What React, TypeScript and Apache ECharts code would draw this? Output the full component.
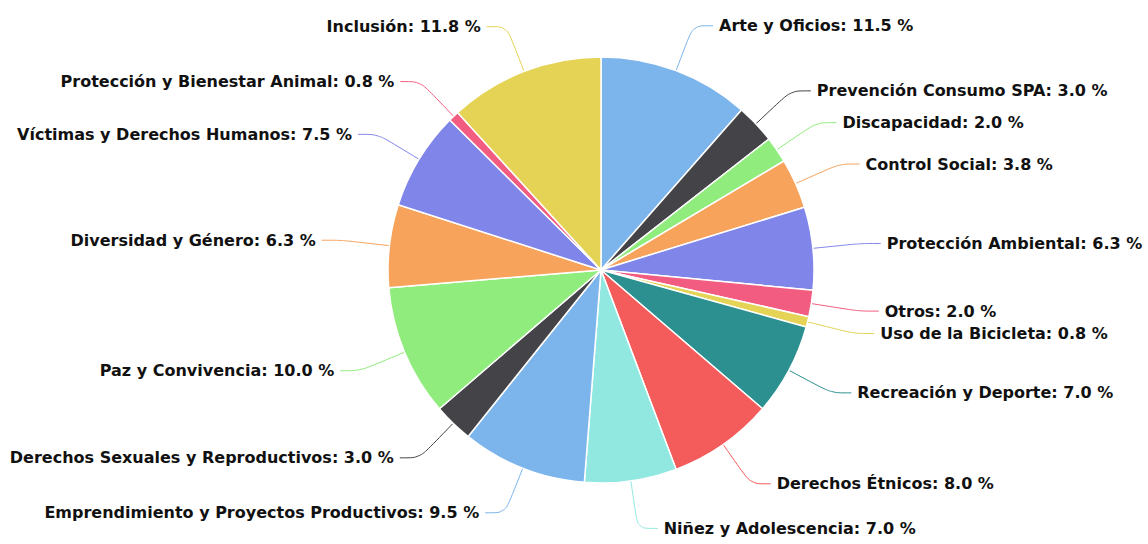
import React, { useEffect, useRef } from "react";
import * as echarts from "echarts";

const categories = [
  "Arte y Oficios",
  "Prevención Consumo SPA",
  "Discapacidad",
  "Control Social",
  "Protección Ambiental",
  "Otros",
  "Uso de la Bicicleta",
  "Recreación y Deporte",
  "Derechos Étnicos",
  "Niñez y Adolescencia",
  "Emprendimiento y Proyectos Productivos",
  "Derechos Sexuales y Reproductivos",
  "Paz y Convivencia",
  "Diversidad y Género",
  "Víctimas y Derechos Humanos",
  "Protección y Bienestar Animal",
  "Inclusión",
];

const values = [11.5, 3.0, 2.0, 3.8, 6.3, 2.0, 0.8, 7.0, 8.0, 7.0, 9.5, 3.0, 10.0, 6.3, 7.5, 0.8, 11.8];

const palette = [
  "#7cb5ec",
  "#434348",
  "#90ed7d",
  "#f7a35c",
  "#8085e9",
  "#f15c80",
  "#e4d354",
  "#2b908f",
  "#f45b5b",
  "#91e8e1",
];

export default function App() {
  const ref = useRef<HTMLDivElement>(null);
  useEffect(() => {
    document.body.style.margin = "0";
    const chart = echarts.init(ref.current!, null, { renderer: "svg" });
    chart.setOption({
      animation: false,
      color: palette,
      series: [
        {
          type: "pie",
          center: [601, 270],
          radius: [0, 213],
          startAngle: 90,
          clockwise: true,
          avoidLabelOverlap: true,
          itemStyle: { borderColor: "#ffffff", borderWidth: 1.5 },
          label: {
            show: true,
            position: "outside",
            fontFamily: "'DejaVu Sans', sans-serif",
            fontWeight: "bold",
            fontSize: 16,
            color: "#111111",
            overflow: "none",
            distanceToLabelLine: 6,
            formatter: (p: any) => `${p.name}: ${Number(p.value).toFixed(1)} %`,
          },
          labelLine: {
            show: true,
            length: 48,
            length2: 20,
            smooth: 0.3,
            lineStyle: { width: 1 },
          },
          emphasis: { disabled: true },
          data: categories.map((name, i) => ({ name, value: values[i] })),
        },
      ],
    });
    return () => chart.dispose();
  }, []);
  return <div ref={ref} style={{ width: 1148, height: 544 }} />;
}
